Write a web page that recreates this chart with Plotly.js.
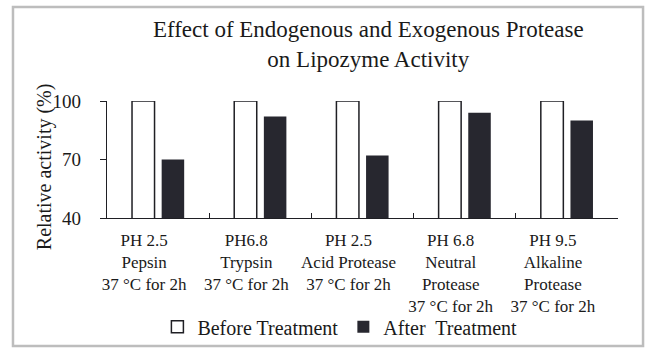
<!DOCTYPE html>
<html>
<head>
<meta charset="utf-8">
<script src="https://cdn.plot.ly/plotly-3.0.1.min.js"></script>
<style>
  html, body { margin: 0; padding: 0; background: #ffffff; }
  #chart { width: 660px; height: 356px; }
</style>
</head>
<body>
<div id="chart"></div>
<script>
// ---- data ----
var categories = [
  "PH 2.5<br>Pepsin<br>37 °C for 2h",
  "PH6.8<br>Trypsin<br>37 °C for 2h",
  "PH 2.5<br>Acid Protease<br>37 °C for 2h",
  "PH 6.8<br>Neutral<br>Protease<br>37 °C for 2h",
  "PH 9.5<br>Alkaline<br>Protease<br>37 °C for 2h"
];
var beforeValues = [100, 100, 100, 100, 100];
var afterValues  = [70, 92, 72, 94, 90];
var seriesNames = ["Before Treatment", "After  Treatment"];
var yTicks = [40, 70, 100];
var titleText = "Effect of Endogenous and Exogenous Protease<br>on Lipozyme Activity";
var yTitleText = "Relative activity (%)";

var FONT = "'Liberation Serif', 'Times New Roman', serif";

var traces = [
  {
    type: "bar", name: seriesNames[0], x: categories, y: beforeValues,
    marker: { color: "#ffffff", line: { color: "#1f1f24", width: 1.5 } },
    hoverinfo: "skip"
  },
  {
    type: "bar", name: seriesNames[1], x: categories, y: afterValues,
    marker: { color: "#27272f", line: { color: "#27272f", width: 0 } },
    hoverinfo: "skip"
  }
];

var layout = {
  width: 660, height: 356,
  margin: { l: 107, r: 42, t: 101, b: 138, pad: 0 },
  paper_bgcolor: "#ffffff", plot_bgcolor: "#ffffff",
  font: { family: FONT, color: "#1a1a1a", size: 18 },
  title: {
    text: titleText,
    font: { family: FONT, size: 23, color: "#1a1a1a" },
    x: 0.558, xref: "container", xanchor: "center",
    y: 0.897, yref: "container", yanchor: "top"
  },
  barmode: "group",
  bargap: 0.42,
  bargroupgap: 0.24,
  showlegend: true,
  legend: {
    orientation: "h",
    x: 0.515, xref: "container", xanchor: "center",
    y: 0.082, yref: "container", yanchor: "middle",
    font: { family: FONT, size: 20, color: "#1a1a1a" },
    itemwidth: 30,
    traceorder: "normal",
    bgcolor: "rgba(0,0,0,0)"
  },
  xaxis: {
    type: "category",
    showgrid: false, zeroline: false,
    showline: true, linecolor: "#1f1f24", linewidth: 1.3,
    ticks: "inside", ticklen: 5, tickcolor: "#1f1f24", tickwidth: 1.3,
    tickson: "boundaries",
    tickangle: 0,
    tickfont: { family: FONT, size: 17, color: "#1a1a1a" },
    ticklabelshift: -14,
    ticklabelstandoff: 6,
    fixedrange: true
  },
  yaxis: {
    range: [40, 100],
    tickvals: yTicks,
    ticktext: yTicks.map(String),
    showgrid: false, zeroline: false,
    showline: true, linecolor: "#1f1f24", linewidth: 1.3,
    ticks: "outside", ticklen: 6, tickcolor: "#1f1f24", tickwidth: 1.3,
    tickfont: { family: FONT, size: 19, color: "#1a1a1a" },
    ticklabelstandoff: 15,
    fixedrange: true
  },
  annotations: [
    {
      text: yTitleText, textangle: -90,
      xref: "paper", yref: "paper",
      x: -0.121, y: 0.436, xanchor: "center", yanchor: "middle",
      showarrow: false,
      font: { family: FONT, size: 20, color: "#1a1a1a" }
    }
  ],
  shapes: [
    {
      type: "rect", xref: "paper", yref: "paper",
      x0: -0.184, x1: 1.049, y0: -1.094, y1: 1.803,
      line: { color: "#bdbdbd", width: 2.5 },
      fillcolor: "rgba(0,0,0,0)", layer: "above"
    }
  ]
};

Plotly.newPlot("chart", traces, layout, { displayModeBar: false });
</script>
</body>
</html>
